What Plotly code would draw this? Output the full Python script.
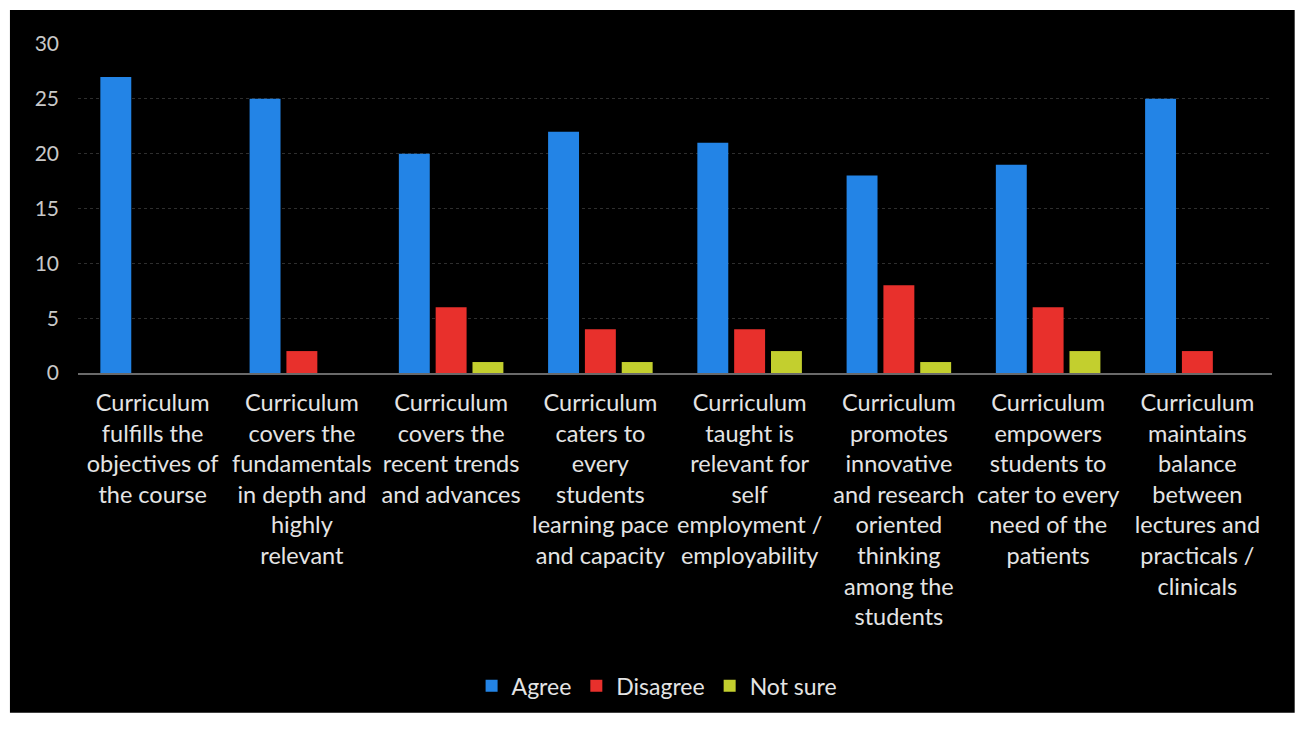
import plotly.graph_objects as go

categories = [
    "Curriculum<br>fulfills the<br>objectives of<br>the course",
    "Curriculum<br>covers the<br>fundamentals<br>in depth and<br>highly<br>relevant",
    "Curriculum<br>covers the<br>recent trends<br>and advances",
    "Curriculum<br>caters to<br>every<br>students<br>learning pace<br>and capacity",
    "Curriculum<br>taught is<br>relevant for<br>self<br>employment /<br>employability",
    "Curriculum<br>promotes<br>innovative<br>and research<br>oriented<br>thinking<br>among the<br>students",
    "Curriculum<br>empowers<br>students to<br>cater to every<br>need of the<br>patients",
    "Curriculum<br>maintains<br>balance<br>between<br>lectures and<br>practicals /<br>clinicals",
]
agree = [27, 25, 20, 22, 21, 18, 19, 25]
disagree = [0, 2, 6, 4, 4, 8, 6, 2]
not_sure = [0, 0, 1, 1, 2, 1, 2, 0]
y_ticks = [0, 5, 10, 15, 20, 25, 30]

series = [
    ("Agree", agree, "#2384e6"),
    ("Disagree", disagree, "#e8302c"),
    ("Not sure", not_sure, "#c3cf2e"),
]

fig = go.Figure()
for name, vals, color in series:
    fig.add_trace(go.Bar(x=categories, y=vals, name=name,
                         marker=dict(color=color, line=dict(width=0))))

text_color = "#e4e4e4"
fig.update_layout(
    width=1305, height=729,
    margin=dict(l=70, r=41, t=36, b=364),
    paper_bgcolor="white",
    plot_bgcolor="black",
    barmode="group",
    bargap=0.26,
    bargroupgap=0.16,
    font=dict(family="Lato, Open Sans, sans-serif", color=text_color, size=19),
    showlegend=True,
    legend=dict(orientation="h", x=0.485, xanchor="center", y=-0.951, yanchor="middle",
                font=dict(size=23, color=text_color), bgcolor="rgba(0,0,0,0)",
                itemwidth=30, traceorder="normal"),
    xaxis=dict(showline=True, linecolor="#6a6a6a", linewidth=2, tickangle=0,
               ticks="", tickfont=dict(size=23.5, color=text_color),
               ticklabelstandoff=8, showgrid=False),
    yaxis=dict(range=[0, 30], tickvals=y_ticks, showgrid=True,
               gridcolor="#2e2e2e", griddash="dot", gridwidth=1,
               zeroline=False, tickfont=dict(size=21, color="#c8c8c8"),
               ticklabelstandoff=18),
    shapes=[dict(type="rect", xref="paper", yref="paper",
                 x0=-0.057, x1=1.019, y0=-1.033, y1=1.103,
                 fillcolor="black", line=dict(width=0), layer="below")],
)

fig.write_html("out.html")
